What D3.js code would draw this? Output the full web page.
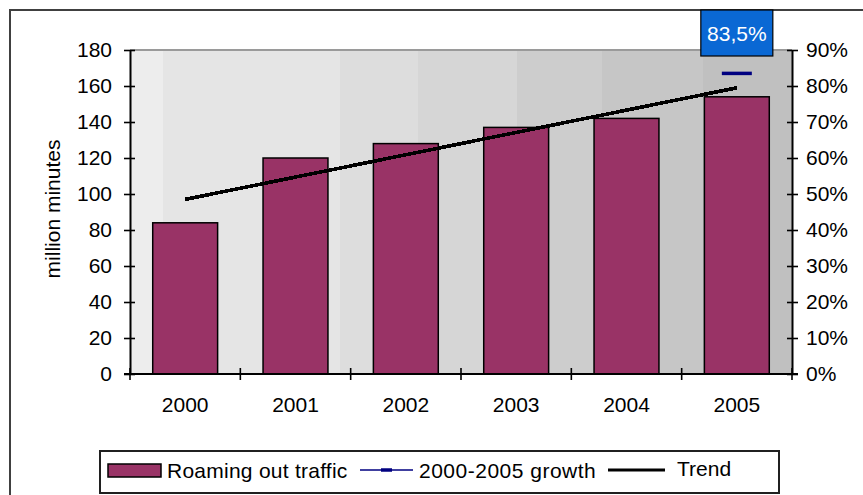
<!DOCTYPE html>
<html>
<head>
<meta charset="utf-8">
<script src="https://cdn.jsdelivr.net/npm/d3@7"></script>
<style>
  html, body { margin: 0; padding: 0; background: #fff; }
  svg { display: block; font-family: "Liberation Sans", Arial, sans-serif; }
</style>
</head>
<body>
<svg id="chart" width="863" height="495"></svg>
<script>
// Roaming out traffic, million minutes
const years = ["2000", "2001", "2002", "2003", "2004", "2005"];
const traffic = [84, 120, 128, 137, 142, 154];
// Linear trend of the traffic series, first and last year
const trendYears = ["2000", "2005"];
const trendValues = [97, 159];
// Growth 2000-2005, percent (right axis)
const growthYear = "2005";
const growthValue = 83.5;
const growthLabel = "83,5%";
// Axis ticks
const leftTicks = [0, 20, 40, 60, 80, 100, 120, 140, 160, 180];
const rightTicks = [0, 10, 20, 30, 40, 50, 60, 70, 80, 90];
const legendLabels = ["Roaming out traffic", "2000-2005 growth", "Trend"];

const svg = d3.select("#chart");
const plot = { left: 130, right: 792, top: 50, bottom: 374 };
const barColor = "#993366";
const font = 21;

// Outer frame
svg.append("rect")
  .attr("x", 10).attr("y", 10).attr("width", 870).attr("height", 500)
  .attr("fill", "#fff").attr("stroke", "#404040").attr("stroke-width", 2);

// Scales
const xCat = d3.scaleBand().domain(years).range([plot.left, plot.right]).padding(0);
const gap = 0.7 / 1.7;
const xBar = d3.scaleBand().domain(years).range([plot.left, plot.right])
  .paddingInner(gap).paddingOuter(gap / 2);
const y = d3.scaleLinear().domain([0, 180]).range([plot.bottom, plot.top]);
const y2 = d3.scaleLinear().domain([0, 90]).range([plot.bottom, plot.top]);

// Plot area background: stepped grey shading from left to right
const defs = svg.append("defs");
const grad = defs.append("linearGradient").attr("id", "bg")
  .attr("x1", "0").attr("x2", "1").attr("y1", "0").attr("y2", "0");
const steps = [
  [0.000, "#ededed"], [0.050, "#e5e5e5"], [0.317, "#dddddd"],
  [0.435, "#d6d6d6"], [0.585, "#cdcdcd"], [0.713, "#c6c6c6"], [0.866, "#c0c0c0"], [1.0, null]
];
for (let i = 0; i < steps.length - 1; i++) {
  grad.append("stop").attr("offset", steps[i][0]).attr("stop-color", steps[i][1]);
  grad.append("stop").attr("offset", steps[i + 1][0]).attr("stop-color", steps[i][1]);
}
svg.append("rect")
  .attr("x", plot.left).attr("y", plot.top)
  .attr("width", plot.right - plot.left).attr("height", plot.bottom - plot.top)
  .attr("fill", "url(#bg)");
// Top edge of the plot area
svg.append("line")
  .attr("x1", plot.left).attr("x2", plot.right).attr("y1", plot.top).attr("y2", plot.top)
  .attr("stroke", "#9a9a9a").attr("stroke-width", 2);

// Bars
svg.append("g").selectAll("rect").data(years).join("rect")
  .attr("x", d => xBar(d))
  .attr("y", (d, i) => y(traffic[i]))
  .attr("width", xBar.bandwidth())
  .attr("height", (d, i) => y(0) - y(traffic[i]))
  .attr("fill", barColor).attr("stroke", "#000").attr("stroke-width", 1.5);

// Trend line
svg.append("path")
  .datum(trendYears.map((d, i) => [xCat(d) + xCat.bandwidth() / 2, y(trendValues[i])]))
  .attr("d", d3.line())
  .attr("fill", "none").attr("stroke", "#000").attr("stroke-width", 3.6)
  .attr("shape-rendering", "crispEdges");

// Growth marker (right axis)
const gx = xCat(growthYear) + xCat.bandwidth() / 2;
svg.append("line")
  .attr("x1", gx - 15).attr("x2", gx + 15)
  .attr("y1", y2(growthValue)).attr("y2", y2(growthValue))
  .attr("stroke", "#000080").attr("stroke-width", 3.5);

// Growth label box
const lab = svg.append("g").attr("transform", `translate(${gx},${33})`);
lab.append("rect")
  .attr("x", -36).attr("y", -23).attr("width", 72).attr("height", 46)
  .attr("fill", "#0a68d4").attr("stroke", "#000").attr("stroke-width", 1.2);
lab.append("text")
  .attr("text-anchor", "middle").attr("dy", "0.36em")
  .attr("font-size", font).attr("fill", "#fff").text(growthLabel);

// Left axis
const leftAxis = svg.append("g").attr("transform", `translate(${plot.left},0)`)
  .call(d3.axisLeft(y).tickValues(leftTicks).tickSizeInner(6).tickSizeOuter(0).tickPadding(12));
leftAxis.selectAll(".tick line").attr("x1", 5);

// Right axis
const rightAxis = svg.append("g").attr("transform", `translate(${plot.right},0)`)
  .call(d3.axisRight(y2).tickValues(rightTicks).tickSizeInner(6).tickSizeOuter(0).tickPadding(8)
    .tickFormat(d => d + "%"));
rightAxis.selectAll(".tick line").attr("x1", -5);

[leftAxis, rightAxis].forEach(g => {
  g.select(".domain").attr("stroke", "#000").attr("stroke-width", 2);
  g.selectAll(".tick line").attr("stroke", "#000").attr("stroke-width", 1.6);
  g.selectAll("text").attr("font-size", font).attr("font-family", null).attr("fill", "#000");
});

// Bottom axis: labels at category centres, ticks at category edges
const bottomAxis = svg.append("g").attr("transform", `translate(0,${plot.bottom})`)
  .call(d3.axisBottom(xCat).tickSize(0).tickPadding(0));
bottomAxis.select(".domain").remove();
bottomAxis.selectAll("text")
  .attr("y", 38).attr("dy", null)
  .attr("font-size", font).attr("font-family", null).attr("fill", "#000");
const edges = years.map(d => xCat(d)).concat([plot.right]);
bottomAxis.selectAll(".edge").data(edges).join("line").attr("class", "edge")
  .attr("x1", d => d).attr("x2", d => d).attr("y1", -6).attr("y2", 6)
  .attr("stroke", "#000").attr("stroke-width", 1.6);
bottomAxis.append("line")
  .attr("x1", plot.left - 6).attr("x2", plot.right + 6).attr("y1", 0).attr("y2", 0)
  .attr("stroke", "#000").attr("stroke-width", 2);

// Left axis title
svg.append("text")
  .attr("transform", "translate(60,209) rotate(-90)")
  .attr("text-anchor", "middle").attr("font-size", font).attr("fill", "#000")
  .text("million minutes");

// Legend
const legend = svg.append("g");
legend.append("rect")
  .attr("x", 100).attr("y", 451).attr("width", 679).attr("height", 42)
  .attr("fill", "#fff").attr("stroke", "#202020").attr("stroke-width", 2);
const ly = 470;
legend.append("rect")
  .attr("x", 108).attr("y", 464).attr("width", 53).attr("height", 13)
  .attr("fill", barColor).attr("stroke", "#000").attr("stroke-width", 1.5);
legend.append("text").attr("x", 167).attr("y", ly).attr("dy", "0.36em")
  .attr("font-size", font).attr("letter-spacing", 0.25).text(legendLabels[0]);
legend.append("line")
  .attr("x1", 360).attr("x2", 413).attr("y1", ly).attr("y2", ly)
  .attr("stroke", "#000080").attr("stroke-width", 1.5);
legend.append("line")
  .attr("x1", 381).attr("x2", 392).attr("y1", ly).attr("y2", ly)
  .attr("stroke", "#000080").attr("stroke-width", 3.5);
legend.append("text").attr("x", 419).attr("y", ly).attr("dy", "0.36em")
  .attr("font-size", font).attr("letter-spacing", 0.5).text(legendLabels[1]);
legend.append("line")
  .attr("x1", 608).attr("x2", 665).attr("y1", ly).attr("y2", ly)
  .attr("stroke", "#000").attr("stroke-width", 3.2);
legend.append("text").attr("x", 677).attr("y", ly - 2).attr("dy", "0.36em")
  .attr("font-size", font).text(legendLabels[2]);
</script>
</body>
</html>
